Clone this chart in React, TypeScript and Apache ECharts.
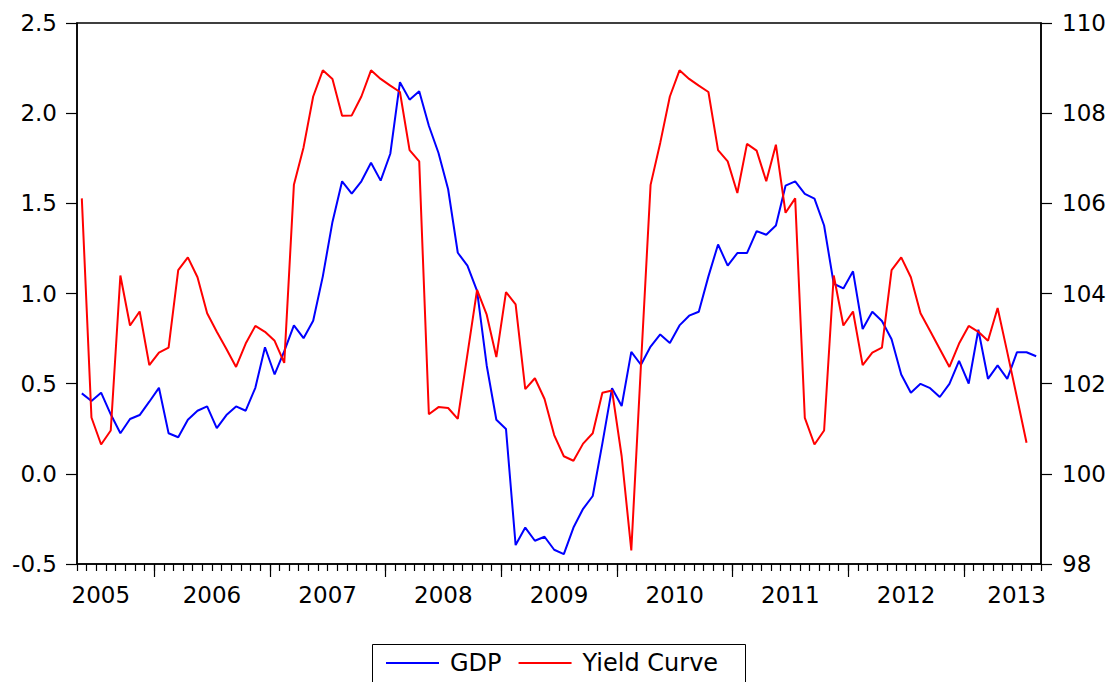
import React, { useEffect, useRef } from 'react';
import * as echarts from 'echarts';

// Monthly observations, May 2005 – Aug 2013
const startYear = 2005;
const startMonth = 5;
const monthCount = 100;

const gdp: number[] = [
  0.446, 0.404, 0.450, 0.330, 0.225, 0.304, 0.326, 0.400, 0.477, 0.225,
  0.203, 0.300, 0.350, 0.374, 0.253, 0.326, 0.374, 0.350, 0.477, 0.702,
  0.551, 0.680, 0.823, 0.752, 0.849, 1.095, 1.397, 1.622, 1.554, 1.622,
  1.725, 1.626, 1.775, 2.172, 2.075, 2.122, 1.930, 1.779, 1.578, 1.226,
  1.155, 1.014, 0.601, 0.300, 0.249, -0.395, -0.298, -0.371, -0.349, -0.421,
  -0.445, -0.298, -0.194, -0.123, 0.169, 0.475, 0.376, 0.676, 0.605, 0.706,
  0.773, 0.726, 0.823, 0.877, 0.899, 1.095, 1.272, 1.155, 1.224, 1.224,
  1.346, 1.326, 1.377, 1.598, 1.622, 1.552, 1.526, 1.377, 1.054, 1.028,
  1.123, 0.803, 0.899, 0.847, 0.746, 0.551, 0.450, 0.499, 0.475, 0.426,
  0.499, 0.626, 0.501, 0.799, 0.527, 0.601, 0.527, 0.674, 0.674, 0.652,
];

const yieldCurve: (number | null)[] = [
  106.11, 101.25, 100.65, 100.96, 104.40, 103.29, 103.60, 102.41, 102.69, 102.80,
  104.52, 104.80, 104.36, 103.56, 103.15, 102.77, 102.37, 102.89, 103.28, 103.15,
  102.95, 102.46, 106.41, 107.24, 108.37, 108.95, 108.76, 107.94, 107.95, 108.37,
  108.95, 108.76, 108.61, 108.47, 107.18, 106.93, 101.32, 101.48, 101.46, 101.22,
  102.65, 104.08, 103.53, 102.59, 104.03, 103.76, 101.88, 102.12, 101.66, 100.86,
  100.39, 100.29, 100.67, 100.90, 101.80, 101.85, 100.39, 98.30, 102.41, 106.41,
  107.34, 108.37, 108.95, 108.76, 108.61, 108.47, 107.18, 106.93, 106.23, 107.32,
  107.17, 106.49, 107.30, 105.79, 106.11, 101.24, 100.65, 100.96, 104.40, 103.29,
  103.60, 102.41, 102.69, 102.80, 104.52, 104.80, 104.36, 103.56, 103.17, 102.77,
  102.37, 102.89, 103.28, 103.15, 102.95, 103.68, 102.70, 101.70, 100.69, null,
];

const yearLabels: string[] = ['2005', '2006', '2007', '2008', '2009', '2010', '2011', '2012', '2013'];
// boundary index (month start, counted from May 2005) at which each year label sits
const yearLabelAt: number[] = [2, 14, 26, 38, 50, 62, 74, 86, 97];

const seriesNames = ['GDP', 'Yield Curve'];

function monthName(i: number): string {
  const m0 = startMonth - 1 + i;
  const y = startYear + Math.floor(m0 / 12);
  const m = (m0 % 12) + 1;
  return `${y}-${m < 10 ? '0' + m : m}`;
}

const months: string[] = Array.from({ length: monthCount }, (_, i) => monthName(i));
const boundaries: string[] = Array.from({ length: monthCount + 1 }, (_, i) => monthName(i));

const FONT = 'DejaVu Sans';

export default function App() {
  const ref = useRef<HTMLDivElement>(null);

  useEffect(() => {
    if (!ref.current) return;
    const chart = echarts.init(ref.current, null, { renderer: 'svg' });
    const lastLabel = yearLabelAt.length - 1;
    chart.setOption({
      animation: false,
      backgroundColor: '#fff',
      textStyle: { fontFamily: FONT, color: '#000' },
      grid: {
        left: 77,
        right: 75,
        top: 23,
        bottom: 118,
        show: true,
        borderColor: '#000',
        borderWidth: 1.5,
        backgroundColor: 'transparent',
      },
      legend: {
        data: seriesNames,
        left: 386,
        top: 651,
        padding: 0,
        icon: 'rect',
        itemWidth: 53,
        itemHeight: 2,
        itemGap: 17,
        textStyle: {
          fontFamily: FONT,
          fontSize: 24,
          color: '#000',
          lineHeight: 24,
          padding: [0, 0, 0, 6],
        },
      },
      graphic: [
        {
          type: 'rect',
          shape: { x: 372.5, y: 644.5, width: 373, height: 60 },
          style: { fill: 'none', stroke: '#000', lineWidth: 1 },
          silent: true,
        },
      ],
      xAxis: [
        {
          type: 'category',
          data: months,
          boundaryGap: true,
          position: 'bottom',
          axisLine: { show: true, onZero: false, lineStyle: { color: '#000', width: 1.5 } },
          axisTick: { show: true, interval: 0, length: 7, lineStyle: { color: '#000', width: 1.2 } },
          axisLabel: { show: false },
          splitLine: { show: false },
        },
        {
          type: 'category',
          data: boundaries,
          boundaryGap: false,
          position: 'bottom',
          axisLine: { show: false, onZero: false },
          axisTick: {
            show: true,
            length: 13,
            interval: (index: number) => index % 12 === (12 - (startMonth - 1)) % 12,
            lineStyle: { color: '#000', width: 1.2 },
          },
          axisLabel: {
            show: true,
            interval: (index: number) => yearLabelAt.indexOf(index) >= 0,
            margin: 19,
            fontFamily: FONT,
            fontSize: 23,
            lineHeight: 23,
            color: '#000',
            formatter: (_v: string, index: number) => {
              const k = yearLabelAt.indexOf(index);
              if (k < 0) return '';
              const s = yearLabels[k];
              return k === 0 || k === lastLabel ? `{edge|${s}}` : s;
            },
            rich: {
              edge: {
                fontFamily: FONT,
                fontSize: 23,
                lineHeight: 23,
                color: '#000',
                padding: [0, 0, 0, 9],
              },
            },
          },
          splitLine: { show: false },
        },
      ],
      yAxis: [
        {
          type: 'value',
          position: 'left',
          min: -0.5,
          max: 2.5,
          interval: 0.5,
          axisLine: { show: true, lineStyle: { color: '#000', width: 1.5 } },
          axisTick: { show: true, length: 11, lineStyle: { color: '#000', width: 1.2 } },
          axisLabel: {
            margin: 20,
            fontFamily: FONT,
            fontSize: 23,
            color: '#000',
            padding: [0, 0, 5, 0],
            formatter: (v: number) => v.toFixed(1),
          },
          splitLine: { show: false },
        },
        {
          type: 'value',
          position: 'right',
          min: 98,
          max: 110,
          interval: 2,
          axisLine: { show: true, lineStyle: { color: '#000', width: 1.5 } },
          axisTick: { show: true, length: 11, lineStyle: { color: '#000', width: 1.2 } },
          axisLabel: {
            margin: 21,
            fontFamily: FONT,
            fontSize: 23,
            color: '#000',
            padding: [0, 0, 5, 0],
          },
          splitLine: { show: false },
        },
      ],
      series: [
        {
          name: seriesNames[0],
          type: 'line',
          xAxisIndex: 0,
          yAxisIndex: 0,
          data: gdp,
          showSymbol: false,
          symbol: 'none',
          color: '#0000FF',
          lineStyle: { color: '#0000FF', width: 2 },
        },
        {
          name: seriesNames[1],
          type: 'line',
          xAxisIndex: 0,
          yAxisIndex: 1,
          data: yieldCurve,
          showSymbol: false,
          symbol: 'none',
          color: '#FF0000',
          lineStyle: { color: '#FF0000', width: 2 },
        },
      ],
    });
    return () => chart.dispose();
  }, []);

  return (
    <div
      ref={ref}
      style={{ position: 'absolute', left: 0, top: 0, width: 1116, height: 682, background: '#fff' }}
    />
  );
}
